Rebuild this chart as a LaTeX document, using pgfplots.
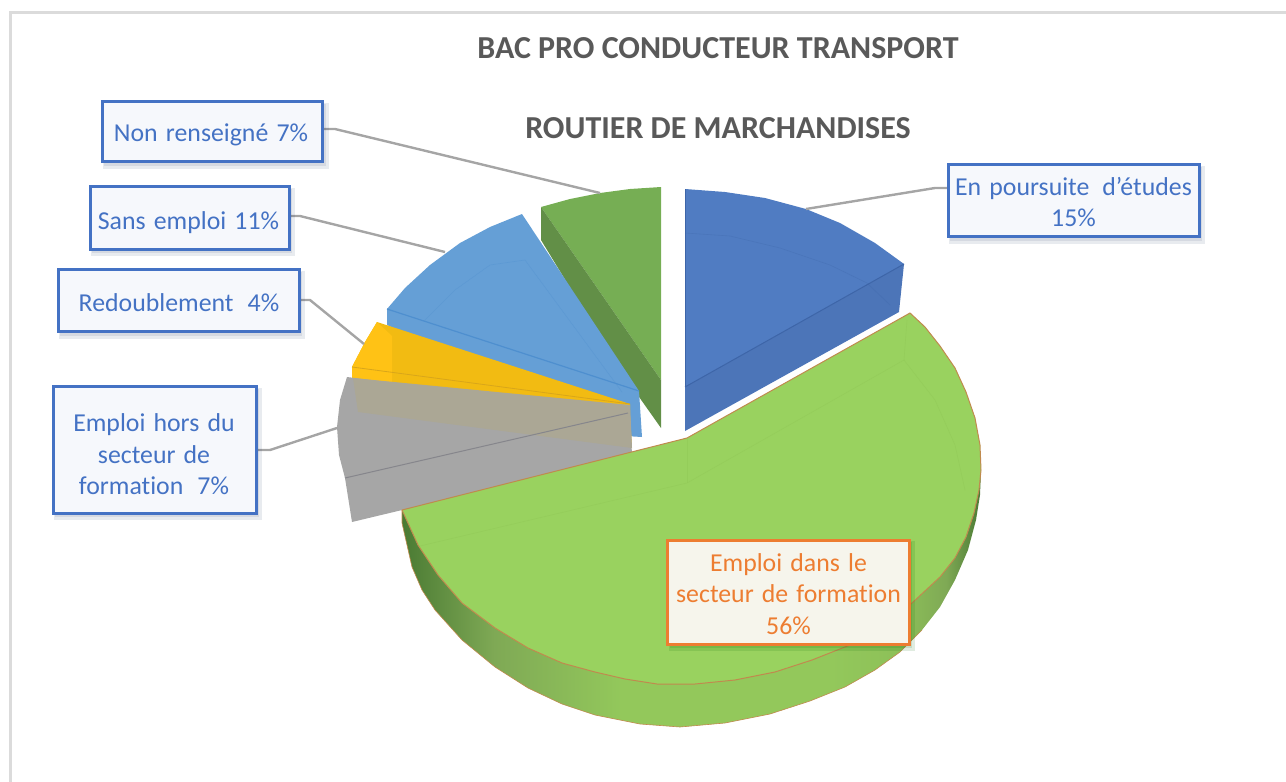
\documentclass[border=0pt]{standalone}
\usepackage{pgfplots}
\pgfplotsset{compat=1.18}
\usepackage{fontspec}
\setmainfont{Carlito}[WordSpace=1.4,Ligatures=NoCommon]
\newfontfamily\ttlfont{Carlito}[WordSpace=1.0]
\definecolor{lblue}{HTML}{4472C4}
\definecolor{lorange}{HTML}{ED7D31}
\definecolor{leader}{HTML}{A5A5A5}
\definecolor{sA}{HTML}{4A7A33}
\definecolor{sB}{HTML}{7FA955}
\definecolor{sC}{HTML}{93C85B}
\definecolor{sD}{HTML}{8DC058}
\definecolor{wgA}{HTML}{76AE54}
\definecolor{wgB}{HTML}{628F47}
\definecolor{skA}{HTML}{659FD6}
\definecolor{skB}{HTML}{4E8FCF}
\definecolor{yeA}{HTML}{F2BB12}
\definecolor{yeB}{HTML}{FFC215}
\definecolor{yeC}{HTML}{D9A61A}
\definecolor{grA}{HTML}{A6A6A6}
\definecolor{grB}{HTML}{86868C}
\definecolor{beA}{HTML}{ABA795}
\definecolor{buA}{HTML}{507CC2}
\definecolor{buB}{HTML}{4C75B8}
\definecolor{buC}{HTML}{3D65A8}
\definecolor{grnT}{HTML}{99D25F}
\definecolor{grnL}{HTML}{93CB59}
\definecolor{oedge}{HTML}{C08A4E}
\definecolor{labB}{HTML}{F6F8FC}
\definecolor{labO}{HTML}{F6F5EC}
\definecolor{ttl}{HTML}{595959}
\pgfdeclarehorizontalshading{sidepie}{100bp}{color(0bp)=(sA);
 color(25bp)=(sA); color(33bp)=(sB); color(44bp)=(sC); color(62bp)=(sC); color(68bp)=(sD); color(72bp)=(sB); color(75bp)=(sA); color(100bp)=(sA)}
\tikzset{
 box/.style={draw=lblue,line width=1.5pt,fill=#1,inner sep=0pt},
 ltx/.style={text=lblue,inner sep=0pt,align=center,font=\fontsize{12.9}{15.8}\selectfont},
 shad/.style={fill=black!50!lblue,opacity=.10,draw=none,inner sep=0pt}
}
\begin{document}
\begin{tikzpicture}
\path[use as bounding box] (0,0) rectangle (643pt,391pt);
\begin{axis}[scale only axis,width=643pt,height=391pt,xmin=0,xmax=1286,ymin=0,ymax=782,y dir=reverse,hide axis,clip=false,at={(0,0)},anchor=south west]
% frame
\addplot[draw=black!14,line width=1.5pt] coordinates {(10,782)(10,12)(1286,12)};
% dark green wedge
\addplot[draw=none,fill=wgA] coordinates {(661,187)(630,189)(600,193)(570,199)(541,207)(661,380)(661,187)};
\addplot[draw=none,fill=wgB] coordinates {(541,207)(661,380)(661,428)(620,370)(541,240)(541,207)};
% sky blue
\addplot[draw=none,fill=skA] coordinates {(522,214)(490,227)(460,243)(430,265)(405,288)(387,309)(387,325)(625,436)(642,437)(639,391)(522,214)};
\addplot[draw=skB,line width=.6pt] coordinates {(387,309)(639,391)};
\addplot[draw=skB,line width=.3pt,opacity=.35] coordinates {(425,320)(455,290)(490,265)(525,260)(622,392)};
% yellow
\addplot[draw=none,fill=yeA] coordinates {(377,322)(365,342)(352,367)(352,378)(630,413)(632,448)(630,448)(630,404)(377,322)};
\addplot[draw=none,fill=yeB] coordinates {(377,322)(365,342)(352,367)(352,378)(392,383)(392,336)(377,322)};
\addplot[draw=yeC,line width=.4pt] coordinates {(352,367)(630,404)};
% gray
\addplot[draw=none,fill=grA] coordinates {(347,377)(340,400)(337,427)(339,455)(345,478)(352,522)(632,455)(630,413)(347,377)};
\addplot[draw=none,fill=beA] coordinates {(353,378)(630,405)(632,448)(358,412)(353,378)};
\addplot[draw=grB,line width=.5pt] coordinates {(345,478)(628,413)};
% right blue
\addplot[draw=none,fill=buA] coordinates {(685,189)(725,192)(765,198)(806,209)(840,223)(875,243)(904,264)(685,387)(685,189)};
\addplot[draw=none,fill=buB] coordinates {(904,264)(685,387)(685,431)(899,312)(904,264)};
\addplot[draw=buC,line width=.5pt] coordinates {(904,264)(685,387)};
\addplot[draw=buC,line width=.3pt,opacity=.3] coordinates {(685,233)(730,236)(780,248)(830,265)(867,283)(890,305)};
\addplot[draw=buC,line width=.5pt] coordinates {(685,189)(685,387)};
% big green side
\addplot[draw=none,shading=sidepie] coordinates {(402,510)(418,545)(438,575)(462,603)(495,628)(528,648)(562,663)(595,672)(625,679)(657,684)(695,684)(735,680)(775,672)(812,660)(850,645)(883,625)(912,603)(940,577)(955,558)(966,537)(974,513)(979,490)(981,470)(980,495)(976,520)(968,550)(955,580)(940,607)(922,630)(900,652)(875,670)(845,687)(810,701)(770,714)(725,723)(680,727)(640,724)(595,715)(562,704)(528,688)(495,667)(462,640)(435,610)(422,590)(412,567)(402,523)(402,510)};
% big green top
\addplot[fill=grnT,draw=oedge,line width=.5pt] coordinates {(402,510)(687,438)(910,313)(925,327)(940,346)(955,368)(966,392)(975,418)(980,445)(981,470)(979,490)(974,513)(966,537)(955,558)(940,577)(912,603)(883,625)(850,645)(812,660)(775,672)(735,680)(695,684)(657,684)(625,679)(595,672)(562,663)(528,648)(495,628)(462,603)(438,575)(418,545)(402,510)};
\addplot[draw=oedge,line width=.3pt] coordinates {(402,510)(402,523)(412,567)(422,590)(435,610)(462,640)(495,667)(528,688)(562,704)(595,715)(640,724)(680,727)(725,723)(770,714)(810,701)(845,687)(875,670)(900,652)(922,630)};
\addplot[draw=grnL,line width=.3pt,opacity=.7] coordinates {(420,546)(687,483)(904,360)(907,320)};
\addplot[draw=grnL,line width=.3pt,opacity=.7] coordinates {(687,438)(687,483)};
\addplot[draw=grnL,line width=.3pt,opacity=.7] coordinates {(904,360)(935,400)(955,445)(965,490)};
% leaders
\addplot[draw=leader,line width=1.2pt] coordinates {(323,129)(335,129)(600,193)};
\addplot[draw=leader,line width=1.2pt] coordinates {(290,216)(300,216)(445,252)};
\addplot[draw=leader,line width=1.2pt] coordinates {(300,300)(310,300)(364,344)};
\addplot[draw=leader,line width=1.2pt] coordinates {(257,450)(270,450)(337,428)};
\addplot[draw=leader,line width=1.2pt] coordinates {(947,188)(935,188)(806,209)};
% shadows
\node[shad,minimum width=113pt,minimum height=33pt] at (axis cs:216,136) {};
\node[shad,minimum width=111pt,minimum height=31pt] at (axis cs:215,135) {};
\node[shad,minimum width=102pt,minimum height=34pt] at (axis cs:193,222) {};
\node[shad,minimum width=100pt,minimum height=32pt] at (axis cs:192,221) {};
\node[shad,minimum width=123pt,minimum height=34pt] at (axis cs:182,305) {};
\node[shad,minimum width=121pt,minimum height=32pt] at (axis cs:181,304) {};
\node[shad,minimum width=104pt,minimum height=66pt] at (axis cs:158,454) {};
\node[shad,minimum width=102pt,minimum height=64pt] at (axis cs:157,453) {};
\node[shad,minimum width=128pt,minimum height=39pt] at (axis cs:1077,205) {};
\node[shad,minimum width=126pt,minimum height=37pt] at (axis cs:1076,204) {};
\node[fill=black!60!green,opacity=.12,inner sep=0pt,minimum width=123pt,minimum height=55pt] at (axis cs:792,596) {};
\node[fill=black!60!green,opacity=.12,inner sep=0pt,minimum width=121pt,minimum height=53pt] at (axis cs:791,595) {};
% label boxes
\node[box=labB,minimum width=110pt,minimum height=30pt] at (axis cs:212,131) {};
\node[box=labB,minimum width=99.5pt,minimum height=31.5pt] at (axis cs:189.5,217.5) {};
\node[box=labB,minimum width=120.5pt,minimum height=31pt] at (axis cs:178.5,300) {};
\node[box=labB,minimum width=101.5pt,minimum height=63.5pt] at (axis cs:154.5,449.5) {};
\node[box=labB,minimum width=125.5pt,minimum height=36pt] at (axis cs:1073.5,200) {};
\node[box=labO,draw=lorange,minimum width=121pt,minimum height=52pt] at (axis cs:788.5,592) {};
% label texts
\node[ltx] at (axis cs:211,135) {Non renseigné 7\%};
\node[ltx] at (axis cs:188.5,222.5) {Sans emploi 11\%};
\node[ltx] at (axis cs:179,303) {Redoublement\hspace{.55em}4\%};
\node[ltx] at (axis cs:154,454.5) {Emploi hors du\\secteur de\\formation\hspace{.55em}7\%};
\node[ltx] at (axis cs:1073.5,202) {En poursuite\hspace{.5em}d'études\\15\%};
\node[ltx,text=lorange] at (axis cs:788.5,594) {Emploi dans le\\secteur de formation\\56\%};
% title
\node[font=\fontsize{16}{18}\ttlfont\bfseries,text=ttl] at (axis cs:718,48) {BAC PRO CONDUCTEUR TRANSPORT};
\node[font=\fontsize{16}{18}\ttlfont\bfseries,text=ttl] at (axis cs:718,128) {ROUTIER DE MARCHANDISES};
\end{axis}
\end{tikzpicture}
\end{document}
